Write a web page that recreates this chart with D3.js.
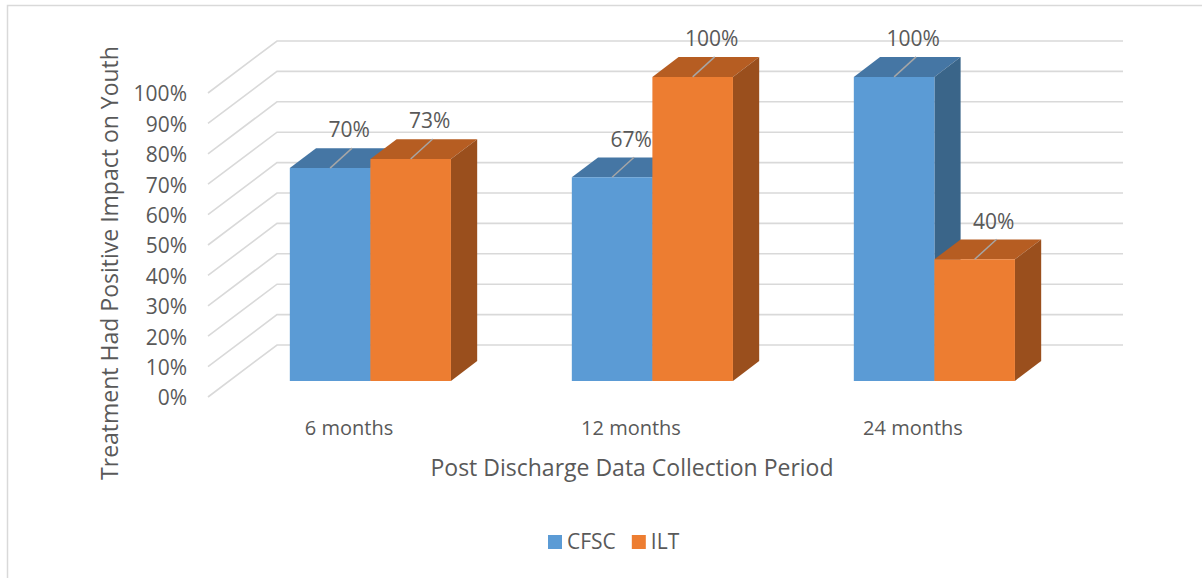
<!DOCTYPE html>
<html>
<head>
<meta charset="utf-8">
<script src="https://cdn.jsdelivr.net/npm/d3@7.9.0/dist/d3.min.js"></script>
<style>
  body { margin: 0; background: #fff; }
  svg { display: block; font-family: "Open Sans", sans-serif; }
  text { fill: #595959; }
</style>
</head>
<body>
<svg id="chart" width="1202" height="578"></svg>
<script>
// chart data
const categories = ["6 months", "12 months", "24 months"];
const series = ["CFSC", "ILT"];
const cfscValues = [0.70, 0.67, 1.00];
const iltValues = [0.73, 1.00, 0.40];
const yTicks = [0, 0.1, 0.2, 0.3, 0.4, 0.5, 0.6, 0.7, 0.8, 0.9, 1.0];

const seriesValues = { CFSC: cfscValues, ILT: iltValues };

// 3d look: depth offset of the back wall, bars sit in the middle slice
const DX = 69, DY = 52;
const zFront = 0.31, zBack = 0.69;

const svg = d3.select("#chart");

const x = d3.scaleBand().domain(categories).range([208, 1054]).padding(0);
const xs = d3.scaleBand().domain(series).range([0, x.bandwidth()]).paddingInner(0).paddingOuter(0.75);
const y = d3.scaleLinear().domain([0, 1]).range([397, 93]);

const faceColor = d3.scaleOrdinal().domain(series).range(["#5B9BD5", "#ED7D31"]);
const topColor = d3.scaleOrdinal().domain(series).range(["#4576A4", "#B65D22"]);
const sideColor = d3.scaleOrdinal().domain(series).range(["#3A6589", "#9A4F1D"]);

// project (world x, value, depth) to screen
const P = (wx, v, z) => [wx + z * DX, y(v) - z * DY];
const poly = (pts) => "M" + pts.map((p) => p.join(",")).join("L") + "Z";

// chart border
svg.append("rect")
  .attr("x", 7.5).attr("y", 5.5).attr("width", 1300).attr("height", 700)
  .attr("fill", "none").attr("stroke", "#D9D9D9").attr("stroke-width", 1.5);

// gridlines: side wall diagonal + back wall
const x0 = x.range()[0], x1 = x.range()[1];
const grid = svg.append("g").attr("stroke", "#D9D9D9").attr("stroke-width", 1.6).attr("fill", "none");
yTicks.forEach((t) => {
  const a = P(x0, t, 0), b = P(x0, t, 1), c = P(x1, t, 1);
  grid.append("path").attr("d", `M${a}L${b}L${c}`);
});

// y tick labels
svg.append("g").selectAll("text").data(yTicks).join("text")
  .attr("x", 187).attr("y", (d) => y(d) + 1).attr("dy", "0.35em")
  .attr("text-anchor", "end").attr("font-size", 21)
  .text(d3.format(".0%"));

// bars
const bars = svg.append("g");
categories.forEach((cat, i) => {
  series.forEach((s) => {
    const v = seriesValues[s][i];
    const l = x(cat) + xs(s), r = l + xs.bandwidth();
    const g = bars.append("g");
    g.append("path").attr("fill", topColor(s))
      .attr("d", poly([P(l, v, zFront), P(r, v, zFront), P(r, v, zBack), P(l, v, zBack)]));
    g.append("path").attr("fill", sideColor(s))
      .attr("d", poly([P(r, 0, zFront), P(r, v, zFront), P(r, v, zBack), P(r, 0, zBack)]));
    g.append("path").attr("fill", faceColor(s))
      .attr("d", poly([P(l, 0, zFront), P(r, 0, zFront), P(r, v, zFront), P(l, v, zFront)]));
  });
});

// data labels with leader lines
const labels = svg.append("g");
categories.forEach((cat, i) => {
  series.forEach((s) => {
    const v = seriesValues[s][i];
    const cx = x(cat) + xs(s) + xs.bandwidth() / 2;
    const [sx, sy] = P(cx, v, zFront);
    labels.append("line")
      .attr("x1", sx).attr("y1", sy).attr("x2", sx + 22).attr("y2", sy - 20)
      .attr("stroke", "#A6A6A6").attr("stroke-width", 1.5);
    labels.append("text")
      .attr("x", sx + 19).attr("y", sy - 38).attr("dy", "0.35em")
      .attr("text-anchor", "middle").attr("font-size", 21)
      .text(d3.format(".0%")(v));
  });
});

// category labels on the front edge
svg.append("g").selectAll("text").data(categories).join("text")
  .attr("x", (d) => x(d) + x.bandwidth() / 2).attr("y", 428).attr("dy", "0.35em")
  .attr("text-anchor", "middle").attr("font-size", 20)
  .text((d) => d);

// axis titles
svg.append("text")
  .attr("x", 632).attr("y", 468).attr("dy", "0.35em")
  .attr("text-anchor", "middle").attr("font-size", 23)
  .text("Post Discharge Data Collection Period");

svg.append("text")
  .attr("transform", "translate(110,263) rotate(-90)").attr("dy", "0.35em")
  .attr("text-anchor", "middle").attr("font-size", 23)
  .text("Treatment Had Positive Impact on Youth");

// legend
const legend = svg.append("g").attr("transform", "translate(548,542)");
let lx = 0;
series.forEach((s) => {
  const item = legend.append("g").attr("transform", `translate(${lx},0)`);
  item.append("rect").attr("x", 0).attr("y", -7).attr("width", 14).attr("height", 14).attr("fill", faceColor(s));
  const t = item.append("text").attr("x", 19).attr("dy", "0.35em").attr("font-size", 21).text(s);
  lx += 19 + t.node().getComputedTextLength() + 16;
});
</script>
</body>
</html>
